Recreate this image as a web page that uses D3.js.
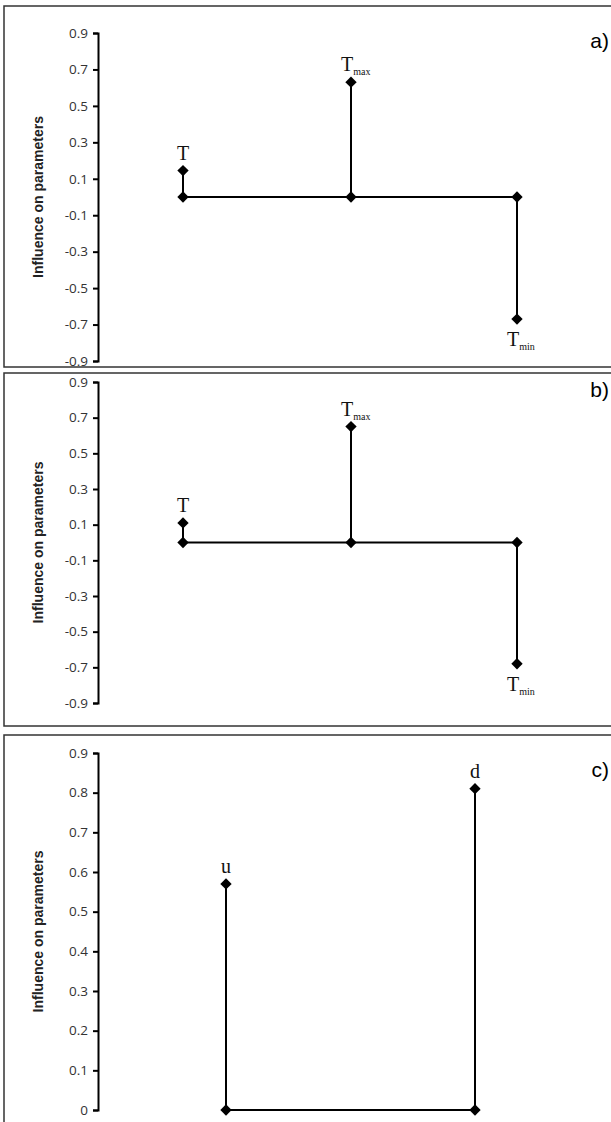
<!DOCTYPE html>
<html><head><meta charset="utf-8">
<script src="https://cdnjs.cloudflare.com/ajax/libs/d3/7.8.5/d3.min.js"></script>
<style>body{margin:0;background:#fff}</style>
</head><body>
<script>
// panel a / b: temperature parameters
var tempNames = ["T", "Tmax", "Tmin"];
var valuesA = [0.145, 0.63, -0.67];
var valuesB = [0.11, 0.65, -0.68];
var tempTicks = [0.9, 0.7, 0.5, 0.3, 0.1, -0.1, -0.3, -0.5, -0.7, -0.9];
// panel c
var cNames = ["u", "d"];
var valuesC = [0.57, 0.81];
var cTicks = [0.9, 0.8, 0.7, 0.6, 0.5, 0.4, 0.3, 0.2, 0.1, 0];

var svg = d3.select("body").append("svg").attr("width", 611).attr("height", 1122);

var panels = [
  {tag: "a)", names: tempNames, vals: valuesA, ticks: tempTicks, dom: [-0.9, 0.9], box: [6, 367], yr: [361, 33], xs: [183, 351, 517], tagY: 48},
  {tag: "b)", names: tempNames, vals: valuesB, ticks: tempTicks, dom: [-0.9, 0.9], box: [373, 726], yr: [703, 382], xs: [183, 351, 517], tagY: 397},
  {tag: "c)", names: cNames, vals: valuesC, ticks: cTicks, dom: [0, 0.9], box: [735, 1140], yr: [1110, 753], xs: [226, 475], tagY: 777}
];

function fmt(d) { return d === 0 ? "0" : d3.format(".1f")(d).replace("\u2212", "-"); }

panels.forEach(function (p) {
  var g = svg.append("g");
  g.append("rect").attr("x", 4).attr("y", p.box[0]).attr("width", 640).attr("height", p.box[1] - p.box[0])
    .attr("fill", "none").attr("stroke", "#333").attr("stroke-width", 1.5);
  var y = d3.scaleLinear().domain(p.dom).range(p.yr);
  var ax = g.append("g").attr("transform", "translate(98,0)")
    .call(d3.axisLeft(y).tickValues(p.ticks).tickSize(5).tickFormat(fmt));
  ax.attr("font-size", null);
  ax.select(".domain").attr("stroke", "#000").attr("stroke-width", 2);
  ax.selectAll(".tick line").attr("stroke", "#000").attr("stroke-width", 2);
  ax.selectAll("text").style("font-family", "'Open Sans', sans-serif").style("font-size", "13.5px").attr("fill", "#333").attr("x", -10);
  g.append("text").attr("transform", "translate(43," + (p.yr[0] + p.yr[1]) / 2 + ") rotate(-90)")
    .attr("text-anchor", "middle").attr("font-family", "Liberation Sans, Arial, sans-serif").attr("font-weight", "bold")
    .attr("font-size", 14).attr("fill", "#222").text("Influence on parameters");
  g.append("text").attr("x", 609).attr("y", p.tagY).attr("text-anchor", "end").attr("font-family", "Liberation Sans, Arial, sans-serif")
    .attr("font-size", 21).text(p.tag);

  var y0 = y(0);
  var x0 = p.xs[0], x1 = p.xs[p.xs.length - 1];
  g.append("line").attr("x1", x0).attr("x2", x1).attr("y1", y0).attr("y2", y0).attr("stroke", "#000").attr("stroke-width", 2);
  p.vals.forEach(function (v, i) {
    var x = p.xs[i];
    g.append("line").attr("x1", x).attr("x2", x).attr("y1", y0).attr("y2", y(v)).attr("stroke", "#000").attr("stroke-width", 2);
    [0, v].forEach(function (d) {
      g.append("rect").attr("x", -4).attr("y", -4).attr("width", 8).attr("height", 8)
        .attr("transform", "translate(" + x + "," + y(d) + ") rotate(45)").attr("fill", "#000");
    });
    var name = p.names[i];
    var ty = v >= 0 ? y(v) - 11 : y(v) + 27;
    var t = g.append("text").attr("x", x).attr("y", ty).attr("text-anchor", "middle")
      .attr("font-family", "Liberation Serif, Times New Roman, serif").attr("font-size", 20).attr("fill", "#111");
    if (name.length > 1 && name[0] === "T") {
      t.attr("text-anchor", "start").attr("x", x - 10);
      t.append("tspan").text("T");
      t.append("tspan").attr("font-size", 10).attr("dy", 4).text(name.slice(1));
    } else {
      t.text(name);
    }
  });
});
</script>
</body></html>
